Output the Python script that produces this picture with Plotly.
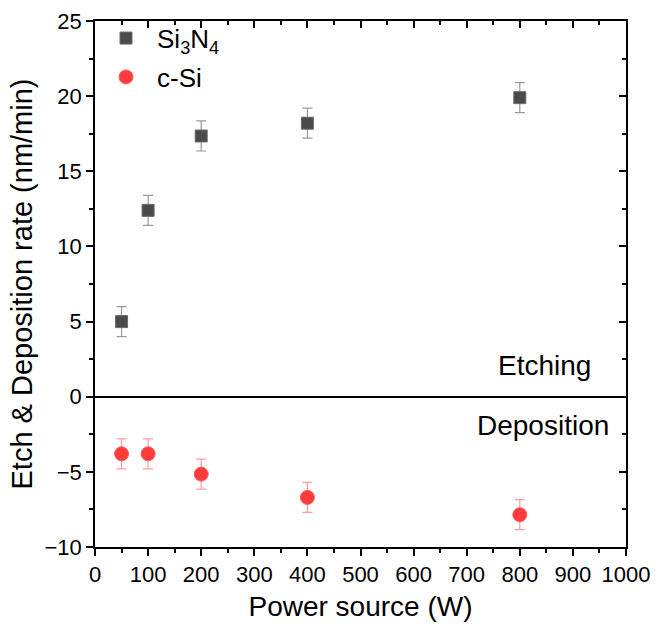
import plotly.graph_objects as go

# Power source settings (W)
power = [50, 100, 200, 400, 800]

# Si3N4 etch rate (nm/min) and its uncertainty
si3n4_rate = [5.0, 12.4, 17.35, 18.2, 19.9]
si3n4_err = [1.0, 1.0, 1.0, 1.0, 1.0]

# c-Si deposition shown as a negative rate (nm/min)
csi_rate = [-3.8, -3.8, -5.15, -6.7, -7.85]
csi_err = [1.0, 1.0, 1.0, 1.0, 1.0]

x_ticks = [0, 100, 200, 300, 400, 500, 600, 700, 800, 900, 1000]
y_ticks = [-10, -5, 0, 5, 10, 15, 20, 25]

FONT = "Liberation Sans, Arial, sans-serif"

fig = go.Figure()

fig.add_trace(go.Scatter(
    x=power, y=si3n4_rate, mode="markers", name="Si<sub>3</sub>N<sub>4</sub>",
    legendgroup="si3n4",
    marker=dict(symbol="square", size=12, color="#4a4a4a",
                line=dict(color="#6a6a6a", width=1)),
    error_y=dict(type="data", array=si3n4_err, color="#9a9a9a",
                 thickness=1.2, width=5),
))
fig.add_trace(go.Scatter(
    x=power, y=csi_rate, mode="markers", name="c-Si",
    legendgroup="csi",
    marker=dict(symbol="circle", size=14, color="#ff3b3b",
                line=dict(color="#ff5a5a", width=1)),
    error_y=dict(type="data", array=csi_err, color="#ff9c9c",
                 thickness=1.2, width=5),
))
# empty trace that anchors the mirrored top/right axes
fig.add_trace(go.Scatter(x=[], y=[], xaxis="x2", yaxis="y2",
                         showlegend=False, hoverinfo="skip"))

axis_common = dict(showline=True, linecolor="black", linewidth=1.5,
                   showgrid=False, tickcolor="black", tickwidth=1.5,
                   ticklen=7, automargin=False)

fig.update_layout(
    width=666, height=627,
    margin=dict(l=95, r=40, t=21, b=80),
    paper_bgcolor="white", plot_bgcolor="white",
    font=dict(family=FONT, size=22, color="black"),
    showlegend=True,
    legend=dict(x=0.0, y=1.012, xanchor="left", yanchor="top",
                bgcolor="rgba(0,0,0,0)", font=dict(size=26),
                itemsizing="trace", itemwidth=52, tracegroupgap=2),
    xaxis=dict(range=[0, 1000], tickvals=x_ticks, ticks="outside",
               minor=dict(dtick=50, ticks="outside", ticklen=4,
                          tickcolor="black", tickwidth=1.5),
               title=dict(text="Power source (W)", font=dict(size=28),
                          standoff=10),
               zeroline=False, **axis_common),
    yaxis=dict(range=[-10, 25], tickvals=y_ticks, ticks="outside",
               minor=dict(dtick=2.5, ticks="outside", ticklen=4,
                          tickcolor="black", tickwidth=1.5),
               title=dict(text="Etch & Deposition rate (nm/min)",
                          font=dict(size=29), standoff=3),
               zeroline=True, zerolinecolor="black", zerolinewidth=1.5,
               **axis_common),
    xaxis2=dict(range=[0, 1000], overlaying="x", side="top", anchor="y2",
                tickvals=x_ticks, ticks="inside", showticklabels=False,
                minor=dict(dtick=50, ticks="inside", ticklen=4,
                           tickcolor="black", tickwidth=1.5),
                zeroline=False, **axis_common),
    yaxis2=dict(range=[-10, 25], overlaying="y", side="right", anchor="x2",
                tickvals=y_ticks, ticks="inside", showticklabels=False,
                minor=dict(dtick=2.5, ticks="inside", ticklen=4,
                           tickcolor="black", tickwidth=1.5),
                zeroline=False, **axis_common),
    annotations=[
        dict(text="Etching", xref="paper", yref="y", x=0.937, y=2.1,
             xanchor="right", yanchor="middle", showarrow=False,
             font=dict(size=28)),
        dict(text="Deposition", xref="paper", yref="y", x=0.971, y=-1.9,
             xanchor="right", yanchor="middle", showarrow=False,
             font=dict(size=28)),
    ],
)

fig.write_html("out.html")
